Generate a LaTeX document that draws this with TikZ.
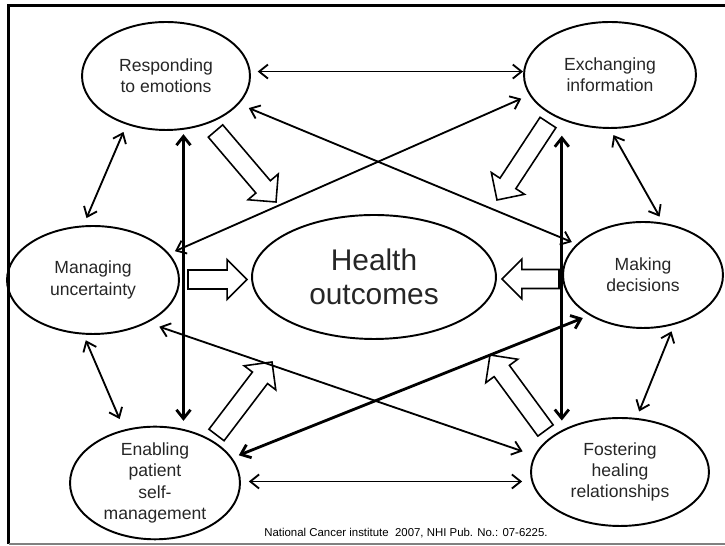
\documentclass[tikz,border=0pt]{standalone}
\usepackage{fontspec}
\setmainfont{Liberation Sans}
\usetikzlibrary{shapes.geometric,arrows.meta,calc}

\tikzset{
  topic/.style={ellipse, draw, line width=1.1pt, inner sep=0pt, align=center, text=black!85, font=\fontsize{10}{12}\selectfont},
  link/.style={{Straight Barb[length=5pt,width=8pt]}-{Straight Barb[length=5pt,width=8pt]}, line width=1.05pt, shorten <=3.5pt, shorten >=3.5pt},
  heavy/.style={line width=1.6pt},
  hollow/.style={draw, fill=white, line width=0.9pt, line join=miter}
}
% open block arrow from #1 (tail) to #2 (tip)
\newcommand{\hollowarrow}[2]{%
  \coordinate (hb) at ($(#2)!11.3pt!(#1)$);
  \draw[hollow] ($(#1)!5.4pt!90:(#2)$) -- ($(hb)!5.4pt!-90:(#1)$) -- ($(hb)!11.3pt!-90:(#1)$) -- (#2)
    -- ($(hb)!11.3pt!90:(#1)$) -- ($(hb)!5.4pt!90:(#1)$) -- ($(#1)!5.4pt!-90:(#2)$) -- cycle;}

\begin{document}
\begin{tikzpicture}[x=0.02cm,y=-0.02cm]
\useasboundingbox (0,0) rectangle (725,546);
%frame
\draw[line width=1.5pt] (8.7,544) -- (8.7,5.5) -- (725,5.5);
\draw[gray,line width=1pt] (8.7,544) -- (725,544);

\node[topic, minimum width=3.36cm, minimum height=2.16cm] (resp) at (166,76) {Responding\\to emotions};
\node[topic, minimum width=3.44cm, minimum height=2.12cm] (exch) at (610,75) {Exchanging\\information};
\node[topic, minimum width=3.44cm, minimum height=2.16cm] (manag) at (93,280) {Managing\\uncertainty};
\node[topic, minimum width=3.2cm, minimum height=2.12cm] (decis) at (643,275) {Making\\decisions};
\node[topic, minimum width=4.88cm, minimum height=2.48cm, font=\fontsize{17}{19}\selectfont] (health) at (374,277) {Health\\outcomes};
\node[topic, minimum width=3.4cm, minimum height=2.12cm] (enab) at (155,483) {Enabling\\patient\\self-\\management};
\node[topic, minimum width=3.56cm, minimum height=2.16cm] (foster) at (620,472) {Fostering\\healing\\relationships};

% big arrows into health outcomes
\coordinate (ba1) at (215.5,131); \coordinate (bt1) at (276,202);
\coordinate (ba2) at (548,122.5); \coordinate (bt2) at (497,200);
\coordinate (ba3) at (188,279.5); \coordinate (bt3) at (247,279.5);
\coordinate (ba4) at (559,279); \coordinate (bt4) at (502,279);
\coordinate (ba5) at (216.5,435); \coordinate (bt5) at (272,362);
\coordinate (ba6) at (545.5,430.5); \coordinate (bt6) at (490,355);
\hollowarrow{ba1}{bt1}
\hollowarrow{ba2}{bt2}
\hollowarrow{ba3}{bt3}
\hollowarrow{ba4}{bt4}
\hollowarrow{ba5}{bt5}
\hollowarrow{ba6}{bt6}

\draw[link, shorten <=4pt, shorten >=0pt] (resp.3) -- (resp.3 -| exch.west);
\draw[link, shorten <=4.5pt, shorten >=4.5pt] (resp.231) -- (manag.100);
\draw[link, heavy, shorten <=2.5pt, shorten >=2.8pt] (resp.288) -- (resp.288 |- enab.north);
\draw[link, shorten <=6pt, shorten >=3pt] (resp.339) -- (decis.155);
\draw[link, shorten <=3.5pt, shorten >=5pt] (manag.19) -- (exch.194);
\draw[link, shorten <=7pt, shorten >=7pt] (manag.322) -- (foster.169);
\draw[link, shorten <=3.5pt, shorten >=6.5pt] (manag.260) -- (enab.120);
\draw[link, heavy, shorten <=4pt, shorten >=4pt] (enab.18) -- (decis.217);
\draw[link, shorten <=4.5pt, shorten >=4.5pt] (enab.1) -- (enab.1 -| foster.west);
\draw[link, heavy, shorten <=9pt, shorten >=-2pt] (exch.223) -- (exch.223 |- foster.north);
\draw[link, shorten <=4pt, shorten >=4pt] (exch.south) -- (decis.69);
\draw[link, shorten <=4pt, shorten >=4pt] (decis.302) -- (foster.73);

\node[font=\fontsize{6.5}{8}\selectfont, inner sep=0pt, anchor=base] (source) at (406,537) {National Cancer institute\ \ 2007, NHI Pub. No.: 07-6225.};
\end{tikzpicture}
\end{document}
